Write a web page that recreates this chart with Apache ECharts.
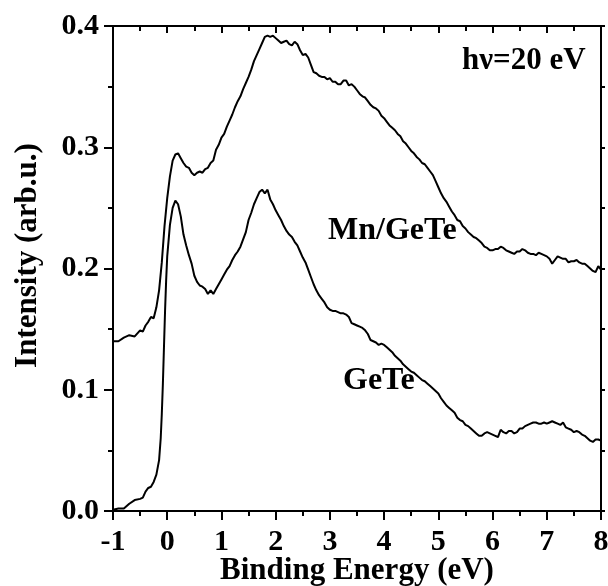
<!DOCTYPE html>
<html>
<head>
<meta charset="utf-8">
<script src="https://cdn.jsdelivr.net/npm/echarts@6/dist/echarts.min.js"></script>
<style>
html,body{margin:0;padding:0;background:#fff;}
#chart{width:608px;height:586px;}
</style>
</head>
<body>
<div id="chart"></div>
<script>
// Binding energy (eV) and intensity for Mn/GeTe
const mnEnergy = [-1.0,-0.9,-0.8,-0.7,-0.6,-0.5,-0.45,-0.4,-0.35,-0.3,-0.25,-0.2,-0.15,-0.1,-0.05,0.0,0.05,0.1,0.15,0.2,0.25,0.3,0.35,0.4,0.45,0.5,0.55,0.6,0.65,0.7,0.75,0.8,0.85,0.9,0.95,1.0,1.05,1.1,1.15,1.2,1.25,1.3,1.35,1.4,1.45,1.5,1.55,1.6,1.65,1.7,1.75,1.8,1.85,1.9,1.95,2.0,2.05,2.1,2.15,2.2,2.25,2.3,2.35,2.4,2.45,2.5,2.55,2.6,2.65,2.7,2.75,2.8,2.85,2.9,2.95,3.0,3.05,3.1,3.15,3.2,3.25,3.3,3.35,3.4,3.45,3.5,3.55,3.6,3.65,3.7,3.75,3.8,3.85,3.9,3.95,4.0,4.05,4.1,4.15,4.2,4.25,4.3,4.35,4.4,4.45,4.5,4.55,4.6,4.65,4.7,4.75,4.8,4.85,4.9,4.95,5.0,5.05,5.1,5.15,5.2,5.25,5.3,5.35,5.4,5.45,5.5,5.55,5.6,5.65,5.7,5.75,5.8,5.85,5.9,5.95,6.0,6.05,6.1,6.15,6.2,6.25,6.3,6.35,6.4,6.45,6.5,6.55,6.6,6.65,6.7,6.75,6.8,6.85,6.9,6.95,7.0,7.05,7.1,7.15,7.2,7.25,7.3,7.35,7.4,7.45,7.5,7.55,7.6,7.65,7.7,7.75,7.8,7.85,7.9,7.95,8.0];
const mnIntensity = [0.140,0.140,0.143,0.145,0.144,0.149,0.148,0.153,0.156,0.160,0.159,0.168,0.182,0.205,0.235,0.258,0.276,0.289,0.294,0.295,0.291,0.287,0.284,0.283,0.279,0.277,0.279,0.280,0.279,0.282,0.283,0.287,0.289,0.298,0.302,0.308,0.311,0.317,0.322,0.327,0.333,0.338,0.342,0.348,0.353,0.358,0.364,0.371,0.376,0.381,0.386,0.391,0.392,0.391,0.392,0.390,0.388,0.386,0.387,0.388,0.385,0.384,0.387,0.385,0.380,0.376,0.377,0.374,0.368,0.362,0.361,0.359,0.358,0.358,0.356,0.357,0.354,0.354,0.352,0.352,0.355,0.355,0.351,0.352,0.350,0.347,0.344,0.342,0.341,0.338,0.335,0.333,0.332,0.330,0.326,0.324,0.321,0.318,0.316,0.314,0.311,0.309,0.305,0.303,0.300,0.297,0.295,0.292,0.290,0.287,0.286,0.283,0.280,0.277,0.272,0.267,0.262,0.258,0.255,0.251,0.247,0.244,0.240,0.239,0.235,0.233,0.230,0.228,0.226,0.225,0.223,0.221,0.218,0.217,0.215,0.215,0.216,0.216,0.218,0.217,0.215,0.214,0.213,0.212,0.214,0.214,0.216,0.215,0.213,0.212,0.212,0.211,0.213,0.212,0.211,0.210,0.208,0.204,0.207,0.210,0.209,0.208,0.208,0.205,0.206,0.206,0.207,0.205,0.204,0.204,0.202,0.200,0.198,0.197,0.202,0.199,0.193];
// Binding energy (eV) and intensity for GeTe
const geEnergy = [-1.0,-0.9,-0.8,-0.7,-0.6,-0.5,-0.45,-0.4,-0.35,-0.3,-0.25,-0.2,-0.15,-0.12,-0.1,-0.08,-0.06,-0.04,-0.02,0.0,0.05,0.1,0.15,0.2,0.25,0.3,0.35,0.4,0.45,0.5,0.55,0.6,0.65,0.7,0.75,0.8,0.85,0.9,0.95,1.0,1.05,1.1,1.15,1.2,1.25,1.3,1.35,1.4,1.45,1.5,1.55,1.6,1.65,1.7,1.75,1.8,1.85,1.9,1.95,2.0,2.05,2.1,2.15,2.2,2.25,2.3,2.35,2.4,2.45,2.5,2.55,2.6,2.65,2.7,2.75,2.8,2.85,2.9,2.95,3.0,3.05,3.1,3.15,3.2,3.25,3.3,3.35,3.4,3.45,3.5,3.55,3.6,3.65,3.7,3.75,3.8,3.85,3.9,3.95,4.0,4.05,4.1,4.15,4.2,4.25,4.3,4.35,4.4,4.45,4.5,4.55,4.6,4.65,4.7,4.75,4.8,4.85,4.9,4.95,5.0,5.05,5.1,5.15,5.2,5.25,5.3,5.35,5.4,5.45,5.5,5.55,5.6,5.65,5.7,5.75,5.8,5.85,5.9,5.95,6.0,6.05,6.1,6.15,6.2,6.25,6.3,6.35,6.4,6.45,6.5,6.55,6.6,6.65,6.7,6.75,6.8,6.85,6.9,6.95,7.0,7.05,7.1,7.15,7.2,7.25,7.3,7.35,7.4,7.45,7.5,7.55,7.6,7.65,7.7,7.75,7.8,7.85,7.9,7.95,8.0];
const geIntensity = [0.001,0.002,0.002,0.006,0.009,0.010,0.011,0.016,0.019,0.020,0.024,0.030,0.042,0.060,0.080,0.105,0.135,0.165,0.190,0.210,0.236,0.250,0.256,0.253,0.243,0.228,0.219,0.211,0.204,0.194,0.189,0.186,0.185,0.183,0.179,0.182,0.179,0.183,0.187,0.191,0.195,0.199,0.202,0.207,0.211,0.214,0.218,0.224,0.230,0.240,0.246,0.253,0.258,0.263,0.265,0.262,0.265,0.257,0.253,0.248,0.244,0.240,0.235,0.231,0.228,0.226,0.222,0.219,0.214,0.209,0.205,0.199,0.193,0.187,0.182,0.178,0.175,0.172,0.168,0.166,0.165,0.165,0.164,0.163,0.163,0.162,0.160,0.155,0.154,0.153,0.152,0.151,0.149,0.146,0.141,0.140,0.139,0.137,0.138,0.137,0.135,0.133,0.131,0.128,0.126,0.124,0.121,0.119,0.117,0.115,0.114,0.112,0.110,0.108,0.107,0.105,0.103,0.101,0.099,0.097,0.093,0.090,0.087,0.085,0.083,0.081,0.077,0.075,0.074,0.071,0.070,0.068,0.066,0.064,0.062,0.062,0.064,0.065,0.064,0.063,0.062,0.061,0.067,0.065,0.064,0.066,0.066,0.064,0.065,0.068,0.068,0.070,0.071,0.072,0.073,0.073,0.072,0.072,0.073,0.072,0.073,0.074,0.073,0.072,0.071,0.073,0.069,0.068,0.067,0.065,0.066,0.065,0.063,0.062,0.060,0.058,0.057,0.059,0.059,0.058];
const xTicks = [-1,0,1,2,3,4,5,6,7,8];
const yTicks = [0.0,0.1,0.2,0.3,0.4];
const labels = {mn:'Mn/GeTe', ge:'GeTe', hv:'h\u03bd=20 eV'};

const font = 'Liberation Serif, Times New Roman, serif';
const pairs = (xs, ys) => xs.map((x, i) => [x, ys[i]]);

const chart = echarts.init(document.getElementById('chart'));
const axisLineStyle = {color:'#000', width:2};
chart.setOption({
  animation:false,
  backgroundColor:'#fff',
  grid:{left:113, top:26, width:488, height:485, containLabel:false, outerBoundsMode:'none'},
  xAxis:[{
    type:'value', min:-1, max:8, interval:1, position:'bottom',
    axisLine:{show:true, onZero:false, lineStyle:axisLineStyle},
    axisTick:{show:true, length:9, lineStyle:{color:'#000', width:2}},
    minorTick:{show:true, splitNumber:2, length:5, lineStyle:{color:'#000', width:2}},
    splitLine:{show:false},
    axisLabel:{color:'#000', fontFamily:font, fontWeight:'bold', fontSize:30, margin:16,
      formatter:v => xTicks.includes(v) ? String(v) : ''},
    name:'Binding Energy (eV)', nameLocation:'middle', nameGap:44, nameMoveOverlap:false,
    nameTextStyle:{color:'#000', fontFamily:font, fontWeight:'bold', fontSize:31}
  },{
    type:'value', min:-1, max:8, interval:1, position:'top',
    axisLine:{show:true, onZero:false, lineStyle:axisLineStyle},
    axisTick:{show:true, inside:true, length:7, lineStyle:{color:'#000', width:2}},
    minorTick:{show:true, splitNumber:2, length:5, lineStyle:{color:'#000', width:2}},
    splitLine:{show:false}, axisLabel:{show:false}
  }],
  yAxis:[{
    type:'value', min:0, max:0.4, interval:0.1, position:'left',
    axisLine:{show:true, onZero:false, lineStyle:axisLineStyle},
    axisTick:{show:true, length:9, lineStyle:{color:'#000', width:2}},
    minorTick:{show:true, splitNumber:2, length:5, lineStyle:{color:'#000', width:2}},
    splitLine:{show:false},
    axisLabel:{color:'#000', fontFamily:font, fontWeight:'bold', fontSize:30, margin:14,
      formatter:v => v.toFixed(1)},
    name:'Intensity (arb.u.)', nameLocation:'middle', nameGap:70, nameMoveOverlap:false,
    nameTextStyle:{color:'#000', fontFamily:font, fontWeight:'bold', fontSize:31, padding:[0,0,0,26]}
  },{
    type:'value', min:0, max:0.4, interval:0.1, position:'right',
    axisLine:{show:true, onZero:false, lineStyle:axisLineStyle},
    axisTick:{show:true, length:4, lineStyle:{color:'#000', width:2}},
    minorTick:{show:true, splitNumber:2, length:4, lineStyle:{color:'#000', width:2}},
    splitLine:{show:false}, axisLabel:{show:false}
  }],
  series:[{
    name:labels.mn, type:'line', xAxisIndex:0, yAxisIndex:0,
    data:pairs(mnEnergy, mnIntensity), showSymbol:false, symbol:'none',
    lineStyle:{color:'#000', width:2}, clip:true
  },{
    name:labels.ge, type:'line', xAxisIndex:0, yAxisIndex:0,
    data:pairs(geEnergy, geIntensity), showSymbol:false, symbol:'none',
    lineStyle:{color:'#000', width:2}, clip:true
  }],
  graphic:[
    {type:'text', left:328, top:215, style:{text:labels.mn, fill:'#000', font:'bold 32px ' + font}},
    {type:'text', left:343, top:365, style:{text:labels.ge, fill:'#000', font:'bold 32px ' + font}},
    {type:'text', left:462, top:45, style:{text:labels.hv, fill:'#000', font:'bold 31px ' + font}}
  ]
});
</script>
</body>
</html>
